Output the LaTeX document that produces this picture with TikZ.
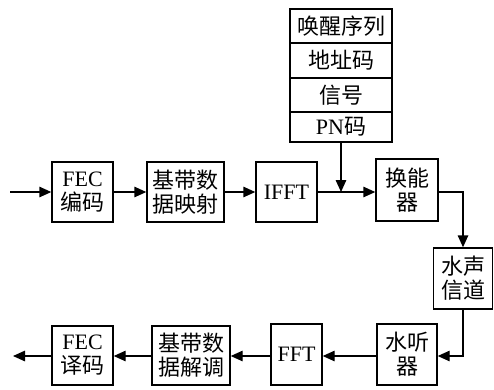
\documentclass[tikz,border=0pt]{standalone}
\usepackage{fontspec}
\setmainfont{Liberation Serif}
\newfontfamily\cjk{Noto Sans CJK SC}
\usetikzlibrary{arrows.meta}
\begin{document}
\begin{tikzpicture}[x=1pt,y=-1pt,
  blk/.style={draw, line width=1.4pt, inner sep=0pt, align=center,
    font=\fontsize{22}{24}\selectfont},
  conn/.style={line width=1.4pt, -{Triangle[length=12pt,width=10.5pt]}}]
\useasboundingbox (0,0) rectangle (494,389);
% top row
\node[blk, minimum width=61pt, minimum height=60pt] (fec) at (82.5,192) {FEC\\{\cjk 编码}};
\node[blk, minimum width=77pt, minimum height=60pt] (map) at (185.5,192) {{\cjk 基带数}\\{\cjk 据映射}};
\node[blk, minimum width=61pt, minimum height=60pt] (ifft) at (286.5,192) {IFFT};
\node[blk, minimum width=62pt, minimum height=62pt] (tr) at (407,190) {{\cjk 换能}\\{\cjk 器}};
% stack
\node[blk, minimum width=102pt, minimum height=34pt] (s1) at (341,26) {\cjk 唤醒序列};
\node[blk, minimum width=102pt, minimum height=35pt] (s2) at (341,60.5) {\cjk 地址码};
\node[blk, minimum width=102pt, minimum height=34pt] (s3) at (341,95) {\cjk 信号};
\node[blk, minimum width=102pt, minimum height=30pt] (s4) at (341,127) {PN{\cjk 码}};
% channel
\node[blk, minimum width=59pt, minimum height=61pt] (ch) at (463,278.5) {{\cjk 水声}\\{\cjk 信道}};
% bottom row
\node[blk, minimum width=60pt, minimum height=61pt] (hy) at (407,354.5) {{\cjk 水听}\\{\cjk 器}};
\node[blk, minimum width=51pt, minimum height=61pt] (fft) at (296.5,354.5) {FFT};
\node[blk, minimum width=78pt, minimum height=59pt] (dem) at (191,355.5) {{\cjk 基带数}\\{\cjk 据解调}};
\node[blk, minimum width=61pt, minimum height=59pt] (fecd) at (82.5,355.5) {FEC\\{\cjk 译码}};
% free ends
\coordinate (in) at (10,192);
\coordinate (out) at (13,356);
% connectors
\draw[conn] (in) -- (fec.west);
\draw[conn] (fec.east) -- (map.west);
\draw[conn] (map.east) -- (ifft.west);
\draw[conn] (ifft.east) -- (ifft.east -| tr.west);
\draw[conn] (s4.south) -- (s4.south |- ifft.east);
\draw[conn] (tr.east |- ifft.east) -| (ch.north);
\draw[conn] (ch.south) |- (hy.east |- 0,356);
\draw[conn] (hy.west |- 0,356) -- (fft.east |- 0,356);
\draw[conn] (fft.west |- 0,356) -- (dem.east |- 0,356);
\draw[conn] (dem.west |- 0,356) -- (fecd.east |- 0,356);
\draw[conn] (fecd.west |- 0,356) -- (out);
\end{tikzpicture}
\end{document}
